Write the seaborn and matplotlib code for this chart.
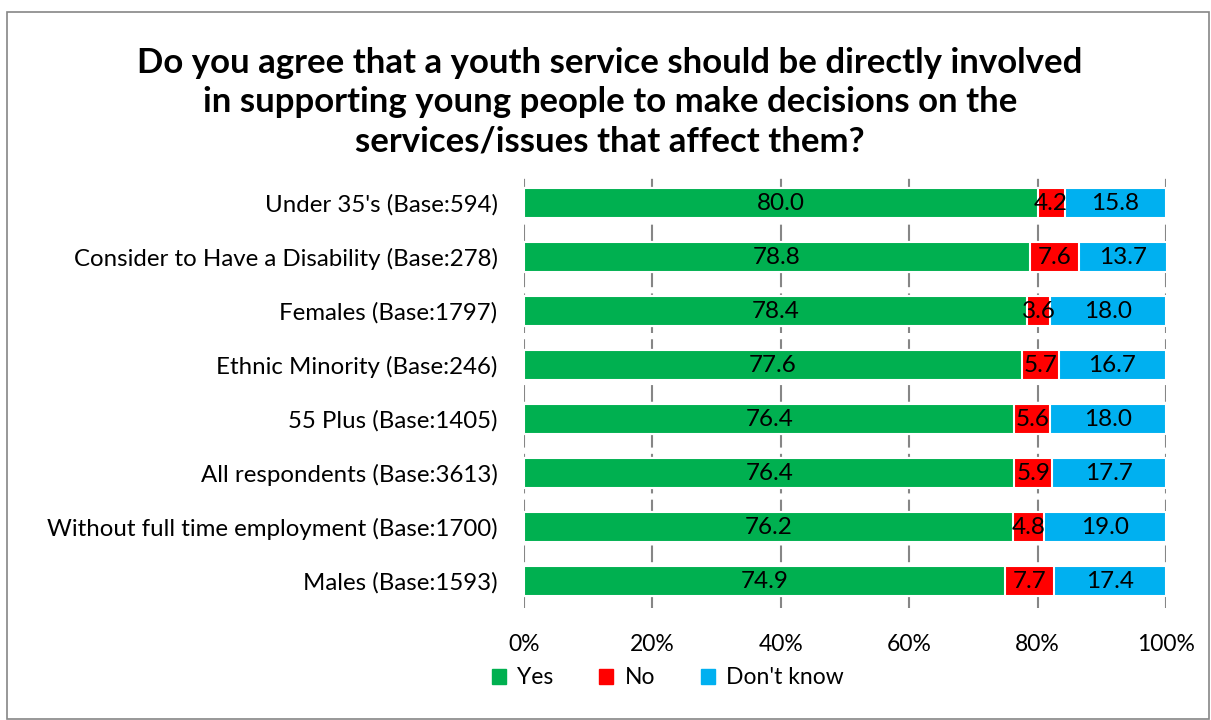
import matplotlib
matplotlib.use("Agg")
import matplotlib.pyplot as plt
import matplotlib.patches as mpatches
import seaborn as sns
import pandas as pd
import numpy as np

categories = [
    "Under 35's (Base:594)",
    "Consider to Have a Disability (Base:278)",
    "Females (Base:1797)",
    "Ethnic Minority (Base:246)",
    "55 Plus (Base:1405)",
    "All respondents (Base:3613)",
    "Without full time employment (Base:1700)",
    "Males (Base:1593)",
]
yes = [80.0, 78.8, 78.4, 77.6, 76.4, 76.4, 76.2, 74.9]
no = [4.2, 7.6, 3.6, 5.7, 5.6, 5.9, 4.8, 7.7]
dont_know = [15.8, 13.7, 18.0, 16.7, 18.0, 17.7, 19.0, 17.4]
series_names = ["Yes", "No", "Don't know"]
colors = ["#00B050", "#FF0000", "#00B0F0"]
xticks = [0, 20, 40, 60, 80, 100]
title = ("Do you agree that a youth service should be directly involved\n"
         "in supporting young people to make decisions on the\n"
         "services/issues that affect them?")

sns.set_theme(style="white")
plt.rcParams['font.family'] = ['Lato', 'DejaVu Sans']
plt.rcParams['text.color'] = 'black'
plt.rcParams['xtick.color'] = 'black'
plt.rcParams['ytick.color'] = 'black'

df = pd.DataFrame({"cat": categories, "Yes": yes, "No": no, "DK": dont_know})
df["c1"] = df["Yes"]
df["c2"] = df["Yes"] + df["No"]
df["c3"] = df["Yes"] + df["No"] + df["DK"]

fig = plt.figure(figsize=(12.11, 7.2), dpi=100)
ax = fig.add_axes([524/1211, 1-608/720, (1166-524)/1211, 432/720])

# stacked by overdrawing cumulative totals
for col, color in zip(["c3", "c2", "c1"], colors[::-1]):
    sns.barplot(data=df, y="cat", x=col, orient="h", color=color,
                width=0.56, edgecolor="white", linewidth=1.5,
                saturation=1, ax=ax, zorder=3)

fs = 16.5
ax.set_xlim(0, 100)
ax.set_xticks(xticks)
ax.set_xticklabels([f"{t}%" for t in xticks], fontsize=fs)
ax.tick_params(axis="x", length=0, pad=19)
ax.tick_params(axis="y", length=0, pad=19, labelsize=17.3)
ax.set_xlabel("")
ax.set_ylabel("")
for s in ax.spines.values():
    s.set_visible(False)
ax.xaxis.grid(True, color="#868686", linestyle=(0, (8, 3)), linewidth=1.5, zorder=0)
ax.yaxis.grid(False)
ax.set_axisbelow(True)

# data labels
for i in range(len(categories)):
    starts = [0, yes[i], yes[i] + no[i]]
    vals = [yes[i], no[i], dont_know[i]]
    for st, v in zip(starts, vals):
        ax.text(st + v/2, i, f"{v:.1f}", ha="center", va="center",
                fontsize=17.5, color="black", zorder=5)

# legend
handles = [mpatches.Patch(color=c, label=n) for c, n in zip(colors, series_names)]
fig.legend(handles=handles, loc="center", bbox_to_anchor=(668/1211, 1-678/720),
           ncol=3, frameon=False, fontsize=fs, handlelength=0.6, handleheight=0.6,
           columnspacing=2.0, handletextpad=0.5)

fig.text(610/1211, 1-102/720, title, ha="center", va="center",
         fontsize=25, fontweight="bold", linespacing=1.28, color="black")

# outer frame
fig.patches.append(mpatches.Rectangle((7/1211, 0.002), 1202/1211, 1-12/720-0.002,
                                      transform=fig.transFigure, fill=False,
                                      edgecolor="#868686", linewidth=1.2))

fig.savefig("out.png", dpi=100)
